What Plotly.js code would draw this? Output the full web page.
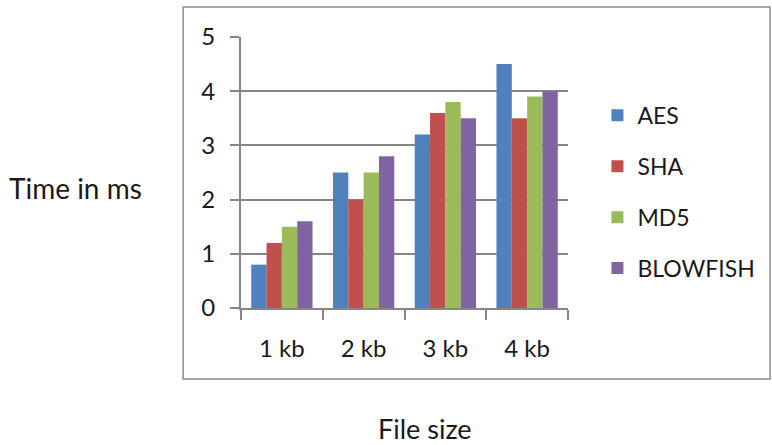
<!DOCTYPE html>
<html>
<head>
<meta charset="utf-8">
<script src="https://cdn.plot.ly/plotly-3.0.1.min.js"></script>
<style>
  html, body { margin: 0; padding: 0; background: #fff; }
  #chart { width: 772px; height: 445px; }
</style>
</head>
<body>
<div id="chart"></div>
<script>
// Encryption timing per file size (ms)
const fileSizes = ["1 kb", "2 kb", "3 kb", "4 kb"];
const aes      = [0.8, 2.5, 3.2, 4.5];
const sha      = [1.2, 2.0, 3.6, 3.5];
const md5      = [1.5, 2.5, 3.8, 3.9];
const blowfish = [1.6, 2.8, 3.5, 4.0];

const seriesNames  = ["AES", "SHA", "MD5", "BLOWFISH"];
const seriesValues = [aes, sha, md5, blowfish];
const seriesColors = ["#4F81BD", "#C0504D", "#9BBB59", "#8064A2"];

const FONT = "Lato, 'Open Sans', sans-serif";
const TEXT = "#1a1a1a";
const GRID = "#868686";

const traces = seriesNames.map((name, i) => ({
  type: "bar",
  name: name,
  x: fileSizes,
  y: seriesValues[i],
  legendgroup: name,
  marker: { color: seriesColors[i], line: { width: 0 } }
}));

const layout = {
  width: 772,
  height: 445,
  margin: { l: 241, r: 204, t: 37, b: 137 },
  paper_bgcolor: "#fff",
  plot_bgcolor: "#fff",
  font: { family: FONT, size: 24, color: TEXT },
  barmode: "group",
  bargap: 0.25,
  bargroupgap: 0,
  showlegend: true,
  legend: {
    x: 1.09, y: 0.79, xanchor: "left", yanchor: "top",
    traceorder: "grouped",
    tracegroupgap: 18,
    itemwidth: 30,
    font: { family: FONT, size: 23, color: TEXT },
    bgcolor: "rgba(0,0,0,0)"
  },
  xaxis: {
    type: "category",
    showline: true, linecolor: GRID, linewidth: 2,
    ticks: "outside", tickson: "boundaries", ticklen: 10, tickcolor: GRID, tickwidth: 2,
    showgrid: false,
    tickfont: { family: FONT, size: 24, color: TEXT },
    ticklabelstandoff: 18
  },
  yaxis: {
    range: [0, 5],
    dtick: 1,
    showline: true, linecolor: GRID, linewidth: 2,
    ticks: "outside", ticklen: 9, tickcolor: GRID, tickwidth: 2,
    showgrid: true, gridcolor: GRID, gridwidth: 2,
    zeroline: false,
    tickfont: { family: FONT, size: 24, color: TEXT },
    ticklabelstandoff: 10
  },
  shapes: [{
    type: "rect", xref: "paper", yref: "paper",
    x0: -0.177, x1: 1.618, y0: -0.262, y1: 1.111,
    line: { color: "#8c8c8c", width: 1.5 }, fillcolor: "rgba(0,0,0,0)", layer: "below"
  }],
  annotations: [
    { text: "Time in ms", xref: "paper", yref: "paper",
      x: (75 - 241) / 327, y: (308 - 188) / 271, xanchor: "center", yanchor: "middle",
      showarrow: false, font: { family: FONT, size: 28, color: TEXT } },
    { text: "File size", xref: "paper", yref: "paper",
      x: (425 - 241) / 327, y: (308 - 428) / 271, xanchor: "center", yanchor: "middle",
      showarrow: false, font: { family: FONT, size: 27, color: TEXT } }
  ]
};

Plotly.newPlot("chart", traces, layout, { displayModeBar: false, staticPlot: true });
</script>
</body>
</html>
